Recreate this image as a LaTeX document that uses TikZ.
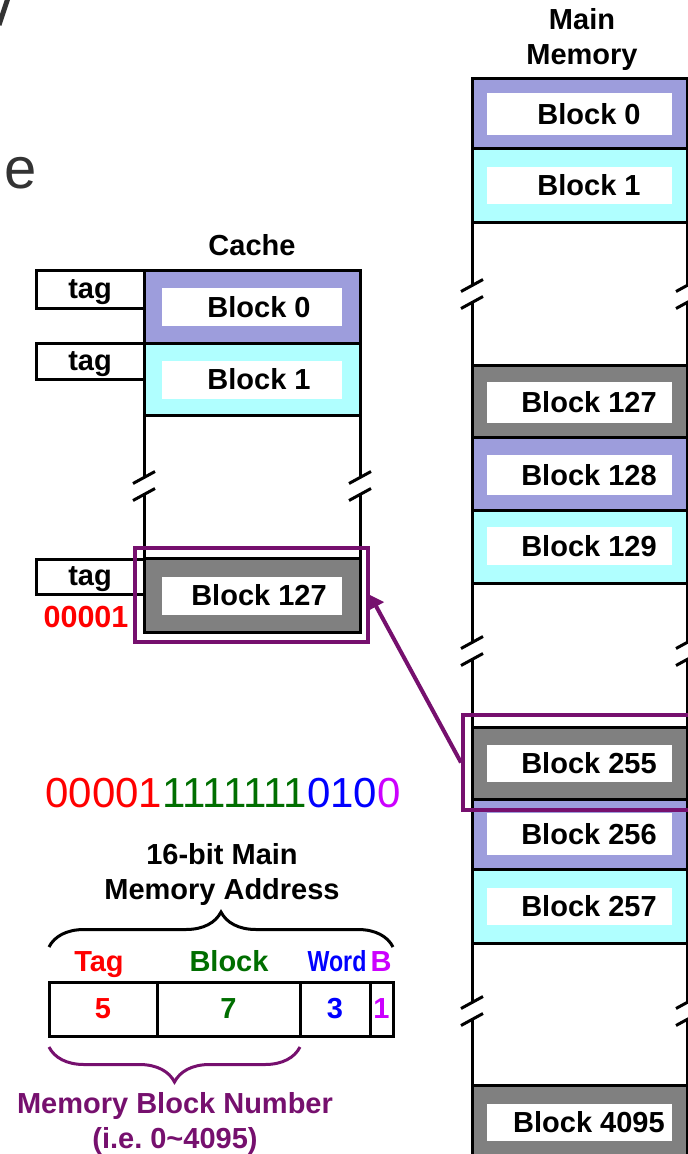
\documentclass[tikz,border=0pt]{standalone}
\usepackage{fontspec}
\setmainfont{Liberation Sans}
\usepackage{graphicx}
\usepackage{tikz}
\usetikzlibrary{positioning,arrows.meta,decorations.pathreplacing}
\usepackage{xcolor}
\definecolor{lav}{RGB}{157,157,220}
\definecolor{cyanb}{RGB}{176,255,255}
\definecolor{gry}{RGB}{128,128,128}
\definecolor{hl}{RGB}{118,16,110}
\definecolor{grn}{RGB}{0,110,0}
\definecolor{blu}{RGB}{0,0,255}
\definecolor{mag}{RGB}{204,0,255}
\definecolor{txtgray}{RGB}{51,51,51}

\begin{document}
\begin{tikzpicture}[
    x=1pt, y=-1pt,
    every node/.style={font=\bfseries\fontsize{29}{35}\selectfont},
    blk/.style={draw, line width=3pt, inner sep=0pt, outer sep=0pt},
    cblk/.style={blk, minimum width=216pt},
    mblk/.style={blk, minimum width=215pt},
    inbox/.style={fill=white, inner sep=0pt, minimum height=38pt},
    cin/.style={inbox, minimum width=180pt},
    mtxt/.style={inbox, minimum width=185pt},
    tagbox/.style={draw, line width=3pt, inner sep=0pt, text depth=0pt, minimum width=108pt, minimum height=37pt},
    field/.style={draw, line width=3pt, inner sep=0pt, outer sep=0pt, minimum height=54pt},
    rim/.style={line width=3pt},
    hilite/.style={draw=hl, line width=4pt, inner sep=0pt},
    link/.style={-{Triangle[length=13pt,width=17pt]}, draw=hl, line width=4pt},
    brace/.style={decorate, decoration={brace, amplitude=35pt}, line width=3pt},
    brk/.pic={
        \fill[white] (-11,-2.5) -- (11,-14.5) -- (11,2.5) -- (-11,14.5) -- cycle;
        \draw[rim] (-11,-2.5) -- (11,-14.5) (-11,14.5) -- (11,2.5);
    }
]
\useasboundingbox (0,0) rectangle (688,1154);
\clip (0,0) rectangle (688,1154);

% cut-off title letters
\draw[line width=5pt, txtgray] (8,-2) -- (-1,25);
\node[anchor=base west, font=\fontsize{58}{60}\selectfont, text=txtgray] (frag) at (1,188) {e};

% cache
\node (cachelbl) at (252,245) {Cache};

\node[cblk, fill=lav, minimum height=73pt] (c0) at (252,306.5) {};
\node[cin] (c0t) at (252,307) {\hspace*{14pt}Block 0};
\node[cblk, fill=cyanb, minimum height=72pt] (c1) at (252,379) {};
\node[cin] (c1t) at (252,379.5) {\hspace*{14pt}Block 1};
\node[cblk, fill=gry, minimum height=74pt] (c127) at (252,595) {};
\node[cin] (c127t) at (252,595.5) {\hspace*{14pt}Block 127};

\draw[rim] (c1.south west) -- (c127.north west);
\draw[rim] (c1.south east) -- (c127.north east);
\pic at (144,486) {brk};
\pic at (360,486) {brk};

\node[tagbox, minimum height=38pt] (tag0) at (90,289) {tag};
\node[tagbox, minimum height=36pt] (tag1) at (90,361) {tag};
\node[tagbox, minimum height=35pt] (tag127) at (90,576.5) {tag};
\node[text=red, font=\bfseries\fontsize{30.5}{35}\selectfont] (tagval) at (86,617) {00001};

% main memory
\node[align=center] (mainlbl) at (582,39) {Main\\Memory};

\node[mblk, fill=lav, minimum height=70pt] (m0) at (579.5,113) {};
\node[mtxt, minimum height=42pt] (m0t) at (579.5,114) {\hspace*{19pt}Block 0};
\node[mblk, fill=cyanb, minimum height=74pt] (m1) at (579.5,185) {};
\node[mtxt, minimum height=37pt] (m1t) at (579.5,185.5) {\hspace*{19pt}Block 1};

\node[mblk, fill=gry, minimum height=72pt] (m127) at (579.5,401) {};
\node[mtxt, minimum height=41pt] (m127t) at (579.5,402.5) {\hspace*{19pt}Block 127};
\node[mblk, fill=lav, minimum height=73pt] (m128) at (579.5,473.5) {};
\node[mtxt, minimum height=40pt] (m128t) at (579.5,475) {\hspace*{19pt}Block 128};
\node[mblk, fill=cyanb, minimum height=73pt] (m129) at (579.5,546.5) {};
\node[mtxt, minimum height=38pt] (m129t) at (579.5,546) {\hspace*{19pt}Block 129};

\node[mblk, fill=gry, minimum height=72pt] (m255) at (579.5,763) {};
\node[mtxt, minimum height=37pt] (m255t) at (579.5,763) {\hspace*{19pt}Block 255};
\node[mblk, fill=lav, minimum height=70pt] (m256) at (579.5,834) {};
\node[mtxt, minimum height=42pt] (m256t) at (579.5,834) {\hspace*{19pt}Block 256};
\node[mblk, fill=cyanb, minimum height=74pt] (m257) at (579.5,906) {};
\node[mtxt, minimum height=37pt] (m257t) at (579.5,906) {\hspace*{19pt}Block 257};

\node[mblk, fill=gry, minimum height=85pt] (m4095) at (579.5,1127.5) {};
\node[mtxt, minimum height=37pt] (m4095t) at (579.5,1122) {\hspace*{19pt}Block 4095};

\draw[rim] (m1.south west) -- (m127.north west);
\draw[rim] (m1.south east) -- (m127.north east);
\draw[rim] (m129.south west) -- (m255.north west);
\draw[rim] (m129.south east) -- (m255.north east);
\draw[rim] (m257.south west) -- (m4095.north west);
\draw[rim] (m257.south east) -- (m4095.north east);
\pic at (472,294) {brk};
\pic at (687,294) {brk};
\pic at (472,651) {brk};
\pic at (687,651) {brk};
\pic at (472,1011) {brk};
\pic at (687,1011) {brk};

% mapping block 255 -> cache line 127
\node[hilite, minimum width=233pt, minimum height=94pt] (chl) at (251.5,595) {};
\node[hilite, minimum width=240pt, minimum height=95pt] (mhl) at (583,762.5) {};
\draw[link] (mhl.west) -- (chl.east);

% address
\node[anchor=base west, font=\fontsize{42}{48}\selectfont] (bits) at (42,807)
    {\textcolor{red}{00001}\textcolor{grn}{1111111}\textcolor{blu}{010}\textcolor{mag}{0}};
\node[align=center] (addrlbl) at (222,874) {16-bit Main\\Memory Address};

\node[field, minimum width=108pt, text=red] (ftag) at (103,1009) {5};
\node[field, minimum width=143pt, text=grn] (fblk) at (228.5,1009) {7};
\node[field, minimum width=70pt, text=blu] (fwrd) at (335,1009) {3};
\node[field, minimum width=23pt, text=mag] (fb) at (381.5,1009) {1};

\node[anchor=base, text=red] (taglbl) at (99,971) {Tag};
\node[anchor=base, text=grn] (blklbl) at (229,971) {Block};
\node[anchor=base, text=blu] (wrdlbl) at (337,971) {\scalebox{0.8}[1]{Word}};
\node[anchor=base, text=mag] (blbl) at (381,971) {B};

\draw[brace] ([yshift=35pt]ftag.north west) -- ([yshift=35pt]fb.north east);
\draw[brace, hl] ([yshift=-11pt]fwrd.south west) -- ([yshift=-11pt]ftag.south west);

\node[align=center, text=hl] (mbnlbl) at (175,1123.5) {Memory Block Number\\(i.e.\ 0\textasciitilde4095)};
\end{tikzpicture}
\end{document}
